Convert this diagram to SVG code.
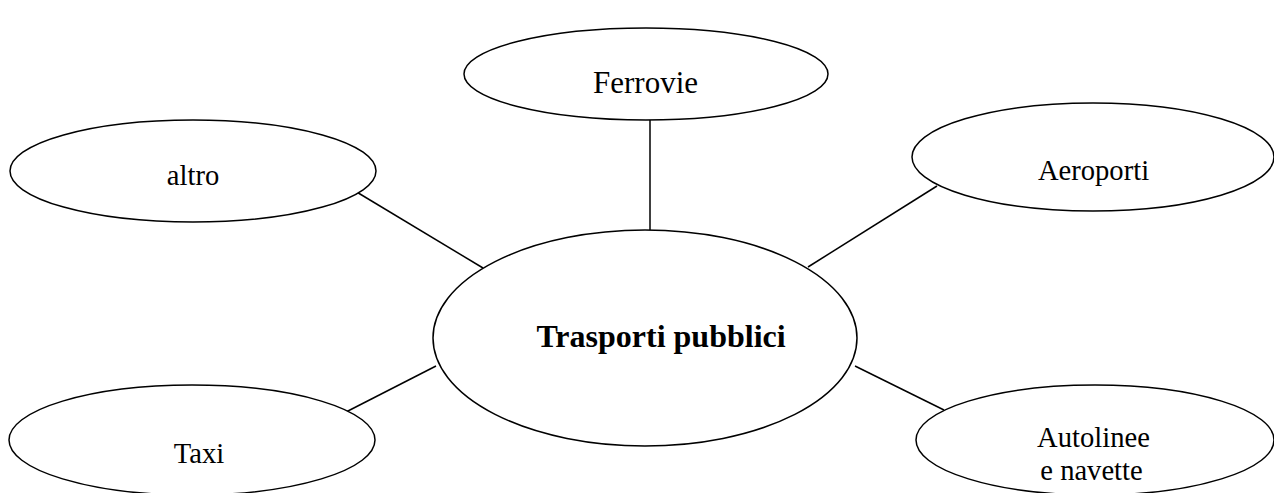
<svg xmlns="http://www.w3.org/2000/svg" width="1274" height="493" viewBox="0 0 1274 493">
  <style>
    .node ellipse { fill: #ffffff; stroke: #000000; stroke-width: 1.5; }
    .node text { font-family: "Liberation Serif", "Times New Roman", serif; font-size: 28.6px; fill: #000000; text-anchor: middle; }
    #hub text { font-weight: bold; font-size: 32px; }
    #ferrovie text { font-size: 31px; }
    #connectors line { stroke: #000000; stroke-width: 1.5; }
  </style>
  <rect width="1274" height="493" fill="#ffffff"/>
  <g id="connectors">
    <line x1="650" y1="120" x2="650" y2="230"/>
    <line x1="937" y1="186" x2="808" y2="267"/>
    <line x1="355" y1="191" x2="483" y2="268"/>
    <line x1="346" y1="412" x2="436" y2="366"/>
    <line x1="944" y1="410" x2="855" y2="366"/>
  </g>
  <g id="hub" class="node">
    <ellipse cx="645" cy="338" rx="212" ry="108"/>
    <text x="661" y="347">Trasporti pubblici</text>
  </g>
  <g id="ferrovie" class="node">
    <ellipse cx="646" cy="74" rx="182" ry="46"/>
    <text x="645.5" y="93">Ferrovie</text>
  </g>
  <g id="aeroporti" class="node">
    <ellipse cx="1093" cy="157" rx="181" ry="54"/>
    <text x="1093.5" y="180">Aeroporti</text>
  </g>
  <g id="altro" class="node">
    <ellipse cx="193" cy="171" rx="183" ry="51"/>
    <text x="193" y="185">altro</text>
  </g>
  <g id="taxi" class="node">
    <ellipse cx="192" cy="440" rx="183" ry="55"/>
    <text x="199" y="463">Taxi</text>
  </g>
  <g id="autolinee" class="node">
    <ellipse cx="1095" cy="440" rx="179" ry="55"/>
    <text x="1093.5" y="447">Autolinee</text>
    <text x="1091.5" y="480">e navette</text>
  </g>
</svg>
